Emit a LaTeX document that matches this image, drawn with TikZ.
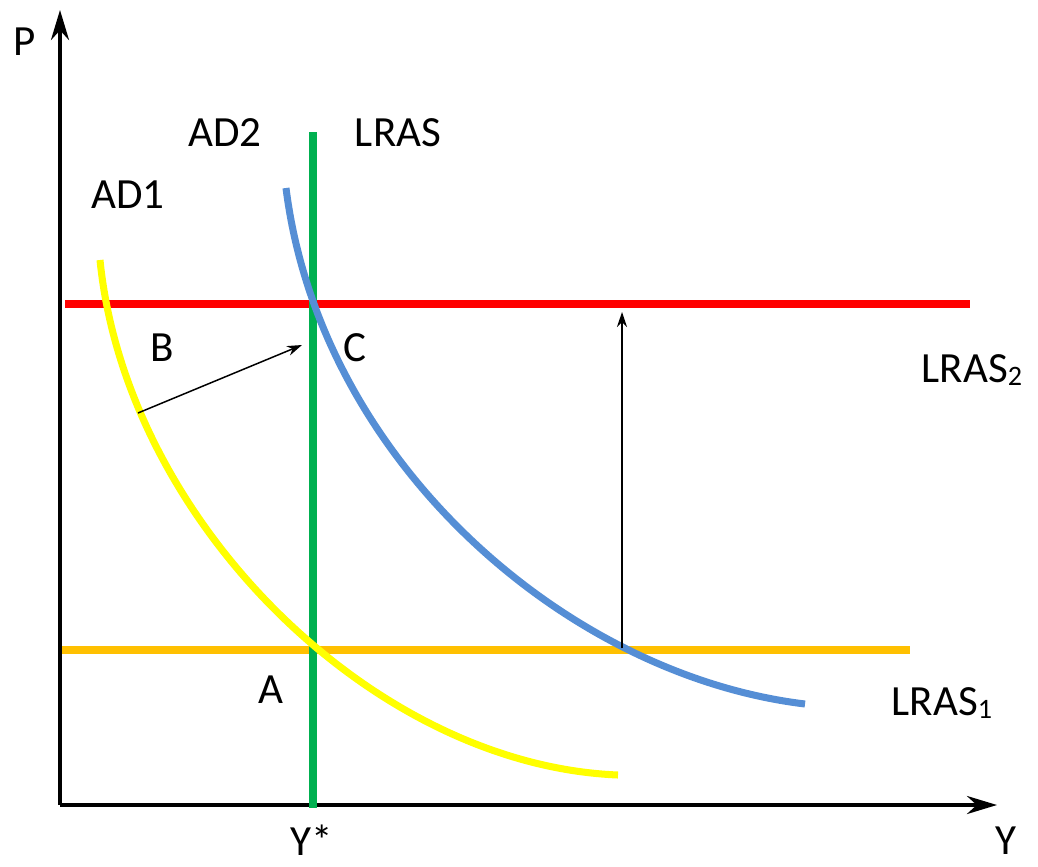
\documentclass[tikz,border=0pt]{standalone}
\usepackage{fontspec}
\setmainfont{Carlito}
\usetikzlibrary{arrows.meta,positioning}
\definecolor{adone}{HTML}{FFFF00}
\definecolor{adtwo}{HTML}{558ED5}
\definecolor{lrasone}{HTML}{FFC000}
\definecolor{lrastwo}{HTML}{FF0000}
\definecolor{lrasv}{HTML}{00B050}
\newcommand{\lsub}[1]{\raisebox{-0.08em}{\fontsize{16}{16}\selectfont #1}}
\tikzset{
  axis/.style={-{Stealth[length=6mm,width=3.6mm]}, line width=2.2pt},
  curve/.style={line width=4pt},
  arr/.style={-{Stealth[length=3mm,width=2mm]}, line width=0.85pt},
  lbl/.style={font=\fontsize{24.5}{29}\selectfont, inner sep=0pt},
}
\begin{document}
\begin{tikzpicture}[x=0.02cm, y=-0.02cm]
\useasboundingbox (0,0) rectangle (1038,866);
% axes
\coordinate (o) at (60,805);
\coordinate (ptop) at (60,10);
\coordinate (yend) at (997,805);
\draw[axis] (o) -- (ptop);
\draw[axis] (o) -- (yend);
\node[lbl] (p) at (25,42) {P};
\node[lbl] (y) at (1006,841) {Y};
% horizontal and vertical lines
\coordinate (r1) at (65,304);
\coordinate (r2) at (970,304);
\coordinate (s1) at (62,650);
\coordinate (s2) at (910,650);
\coordinate (v1) at (313,132);
\coordinate (v2) at (313,808);
\draw[curve, lrastwo] (r1) -- (r2);
\draw[curve, lrasone] (s1) -- (s2);
\draw[curve, lrasv] (v1) -- (v2);
% demand curves
\coordinate (ad1s) at (100,260);
\coordinate (ad1e) at (618,775);
\coordinate (ad2s) at (286,188);
\coordinate (ad2e) at (805,704);
\draw[curve, adone] (ad1s) .. controls (126,520) and (372,765) .. (ad1e);
\draw[curve, adtwo] (ad2s) .. controls (320,460) and (565,675) .. (ad2e);
% shifts
\coordinate (b) at (138,413);
\coordinate (c) at (302,345);
\coordinate (e1) at (622,648);
\coordinate (e2) at (622,312);
\draw[arr] (b) -- (c);
\draw[arr] (e1) -- (e2);
% labels
\node[lbl] (ad2) at (225,133) {AD2};
\node[lbl] (lras) at (398,133) {LRAS};
\node[lbl] (ad1) at (128,195) {AD1};
\node[lbl] (lb) at (162,348) {B};
\node[lbl] (lc) at (355,348) {C};
\node[lbl] (la) at (271,690) {A};
\node[lbl] (lras2) at (972,370) {LRAS\lsub{2}};
\node[lbl] (lras1) at (942,703) {LRAS\lsub{1}};
\node[lbl] (ystar) at (312,840) {Y*};
\end{tikzpicture}
\end{document}
